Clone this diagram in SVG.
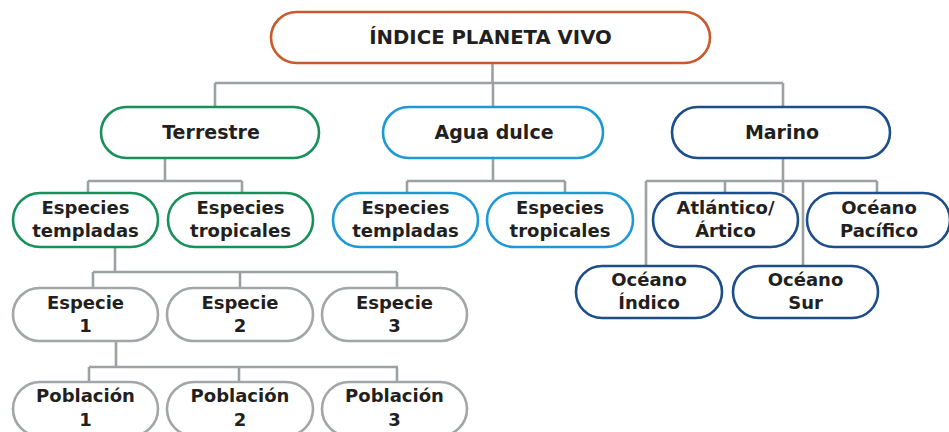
<svg xmlns="http://www.w3.org/2000/svg" width="949" height="432" viewBox="0 0 949 432">
<style>
.bg{fill:#ffffff}
.n rect{fill:#ffffff;stroke-width:2.6}
.o rect{stroke:#c95a2b}
.g rect{stroke:#17915a}
.lb rect{stroke:#1d9ad6}
.db rect{stroke:#1c4e8b}
.gr rect{stroke:#a2a6a8}
text{font-family:"DejaVu Sans","Liberation Sans",sans-serif;font-weight:bold;font-size:18px;fill:#231f20;text-anchor:middle}
.title{font-size:19.7px}
.l2{font-size:19px}
#connectors path{fill:none;stroke:#9ca1a4;stroke-width:2.6}
</style>
<rect class="bg" x="0" y="0" width="949" height="432"/>
<g id="connectors">
<path d="M492.5 63V83M215 83H783M215 83V107M493 83V107M783 83V107"/>
<path d="M165 158V181M88 181H242M88 181V193M242 181V193"/>
<path d="M493 158V181M407 181H565M407 181V193M565 181V193"/>
<path d="M783 158V193M646 181H877M646 181V266M725 181V193M803 181V266M877 181V193"/>
<path d="M115 247V272M93 272H397M93 272V288M240 272V288M397 272V288"/>
<path d="M116 341V367M89 367H398M89 367V382M239 367V382M397 367V382"/>
</g>
<g id="root" class="n o"><rect x="271" y="12" width="439" height="51" rx="25.5"/><text class="title" x="490.5" y="44">ÍNDICE PLANETA VIVO</text></g>
<g id="terrestre" class="n g"><rect x="101" y="107" width="218" height="51" rx="25.5"/><text class="l2" x="211" y="139">Terrestre</text></g>
<g id="agua-dulce" class="n lb"><rect x="383" y="107" width="220" height="51" rx="25.5"/><text class="l2" x="494" y="139">Agua dulce</text></g>
<g id="marino" class="n db"><rect x="672" y="107" width="218" height="51" rx="25.5"/><text class="l2" x="782" y="139">Marino</text></g>
<g id="terr-templadas" class="n g"><rect x="13" y="193" width="145" height="54" rx="27"/><text x="85.5" y="214">Especies</text><text x="85.5" y="237">templadas</text></g>
<g id="terr-tropicales" class="n g"><rect x="168" y="193" width="145" height="54" rx="27"/><text x="240.5" y="214">Especies</text><text x="240.5" y="237">tropicales</text></g>
<g id="agua-templadas" class="n lb"><rect x="333" y="193" width="145" height="54" rx="27"/><text x="405.5" y="214">Especies</text><text x="405.5" y="237">templadas</text></g>
<g id="agua-tropicales" class="n lb"><rect x="487" y="193" width="146" height="54" rx="27"/><text x="560" y="214">Especies</text><text x="560" y="237">tropicales</text></g>
<g id="atlantico" class="n db"><rect x="653" y="193" width="145" height="54" rx="27"/><text x="725.5" y="214">Atlántico/</text><text x="725.5" y="237">Ártico</text></g>
<g id="pacifico" class="n db"><rect x="807" y="193" width="143" height="54" rx="27"/><text x="879" y="214">Océano</text><text x="879" y="237">Pacífico</text></g>
<g id="indico" class="n db"><rect x="576" y="266" width="146" height="52" rx="26"/><text x="649" y="285.5">Océano</text><text x="649" y="309">Índico</text></g>
<g id="sur" class="n db"><rect x="733" y="266" width="145" height="52" rx="26"/><text x="805.5" y="285.5">Océano</text><text x="805.5" y="309">Sur</text></g>
<g id="especie-1" class="n gr"><rect x="13" y="288" width="145" height="53" rx="26.5"/><text x="85.5" y="308.5">Especie</text><text x="85.5" y="332">1</text></g>
<g id="especie-2" class="n gr"><rect x="167" y="288" width="146" height="53" rx="26.5"/><text x="240" y="308.5">Especie</text><text x="240" y="332">2</text></g>
<g id="especie-3" class="n gr"><rect x="322" y="288" width="145" height="53" rx="26.5"/><text x="394.5" y="308.5">Especie</text><text x="394.5" y="332">3</text></g>
<g id="poblacion-1" class="n gr"><rect x="13" y="382" width="145" height="54" rx="27"/><text x="85.5" y="402">Población</text><text x="85.5" y="426">1</text></g>
<g id="poblacion-2" class="n gr"><rect x="167" y="382" width="146" height="54" rx="27"/><text x="240" y="402">Población</text><text x="240" y="426">2</text></g>
<g id="poblacion-3" class="n gr"><rect x="322" y="382" width="145" height="54" rx="27"/><text x="394.5" y="402">Población</text><text x="394.5" y="426">3</text></g>
</svg>
